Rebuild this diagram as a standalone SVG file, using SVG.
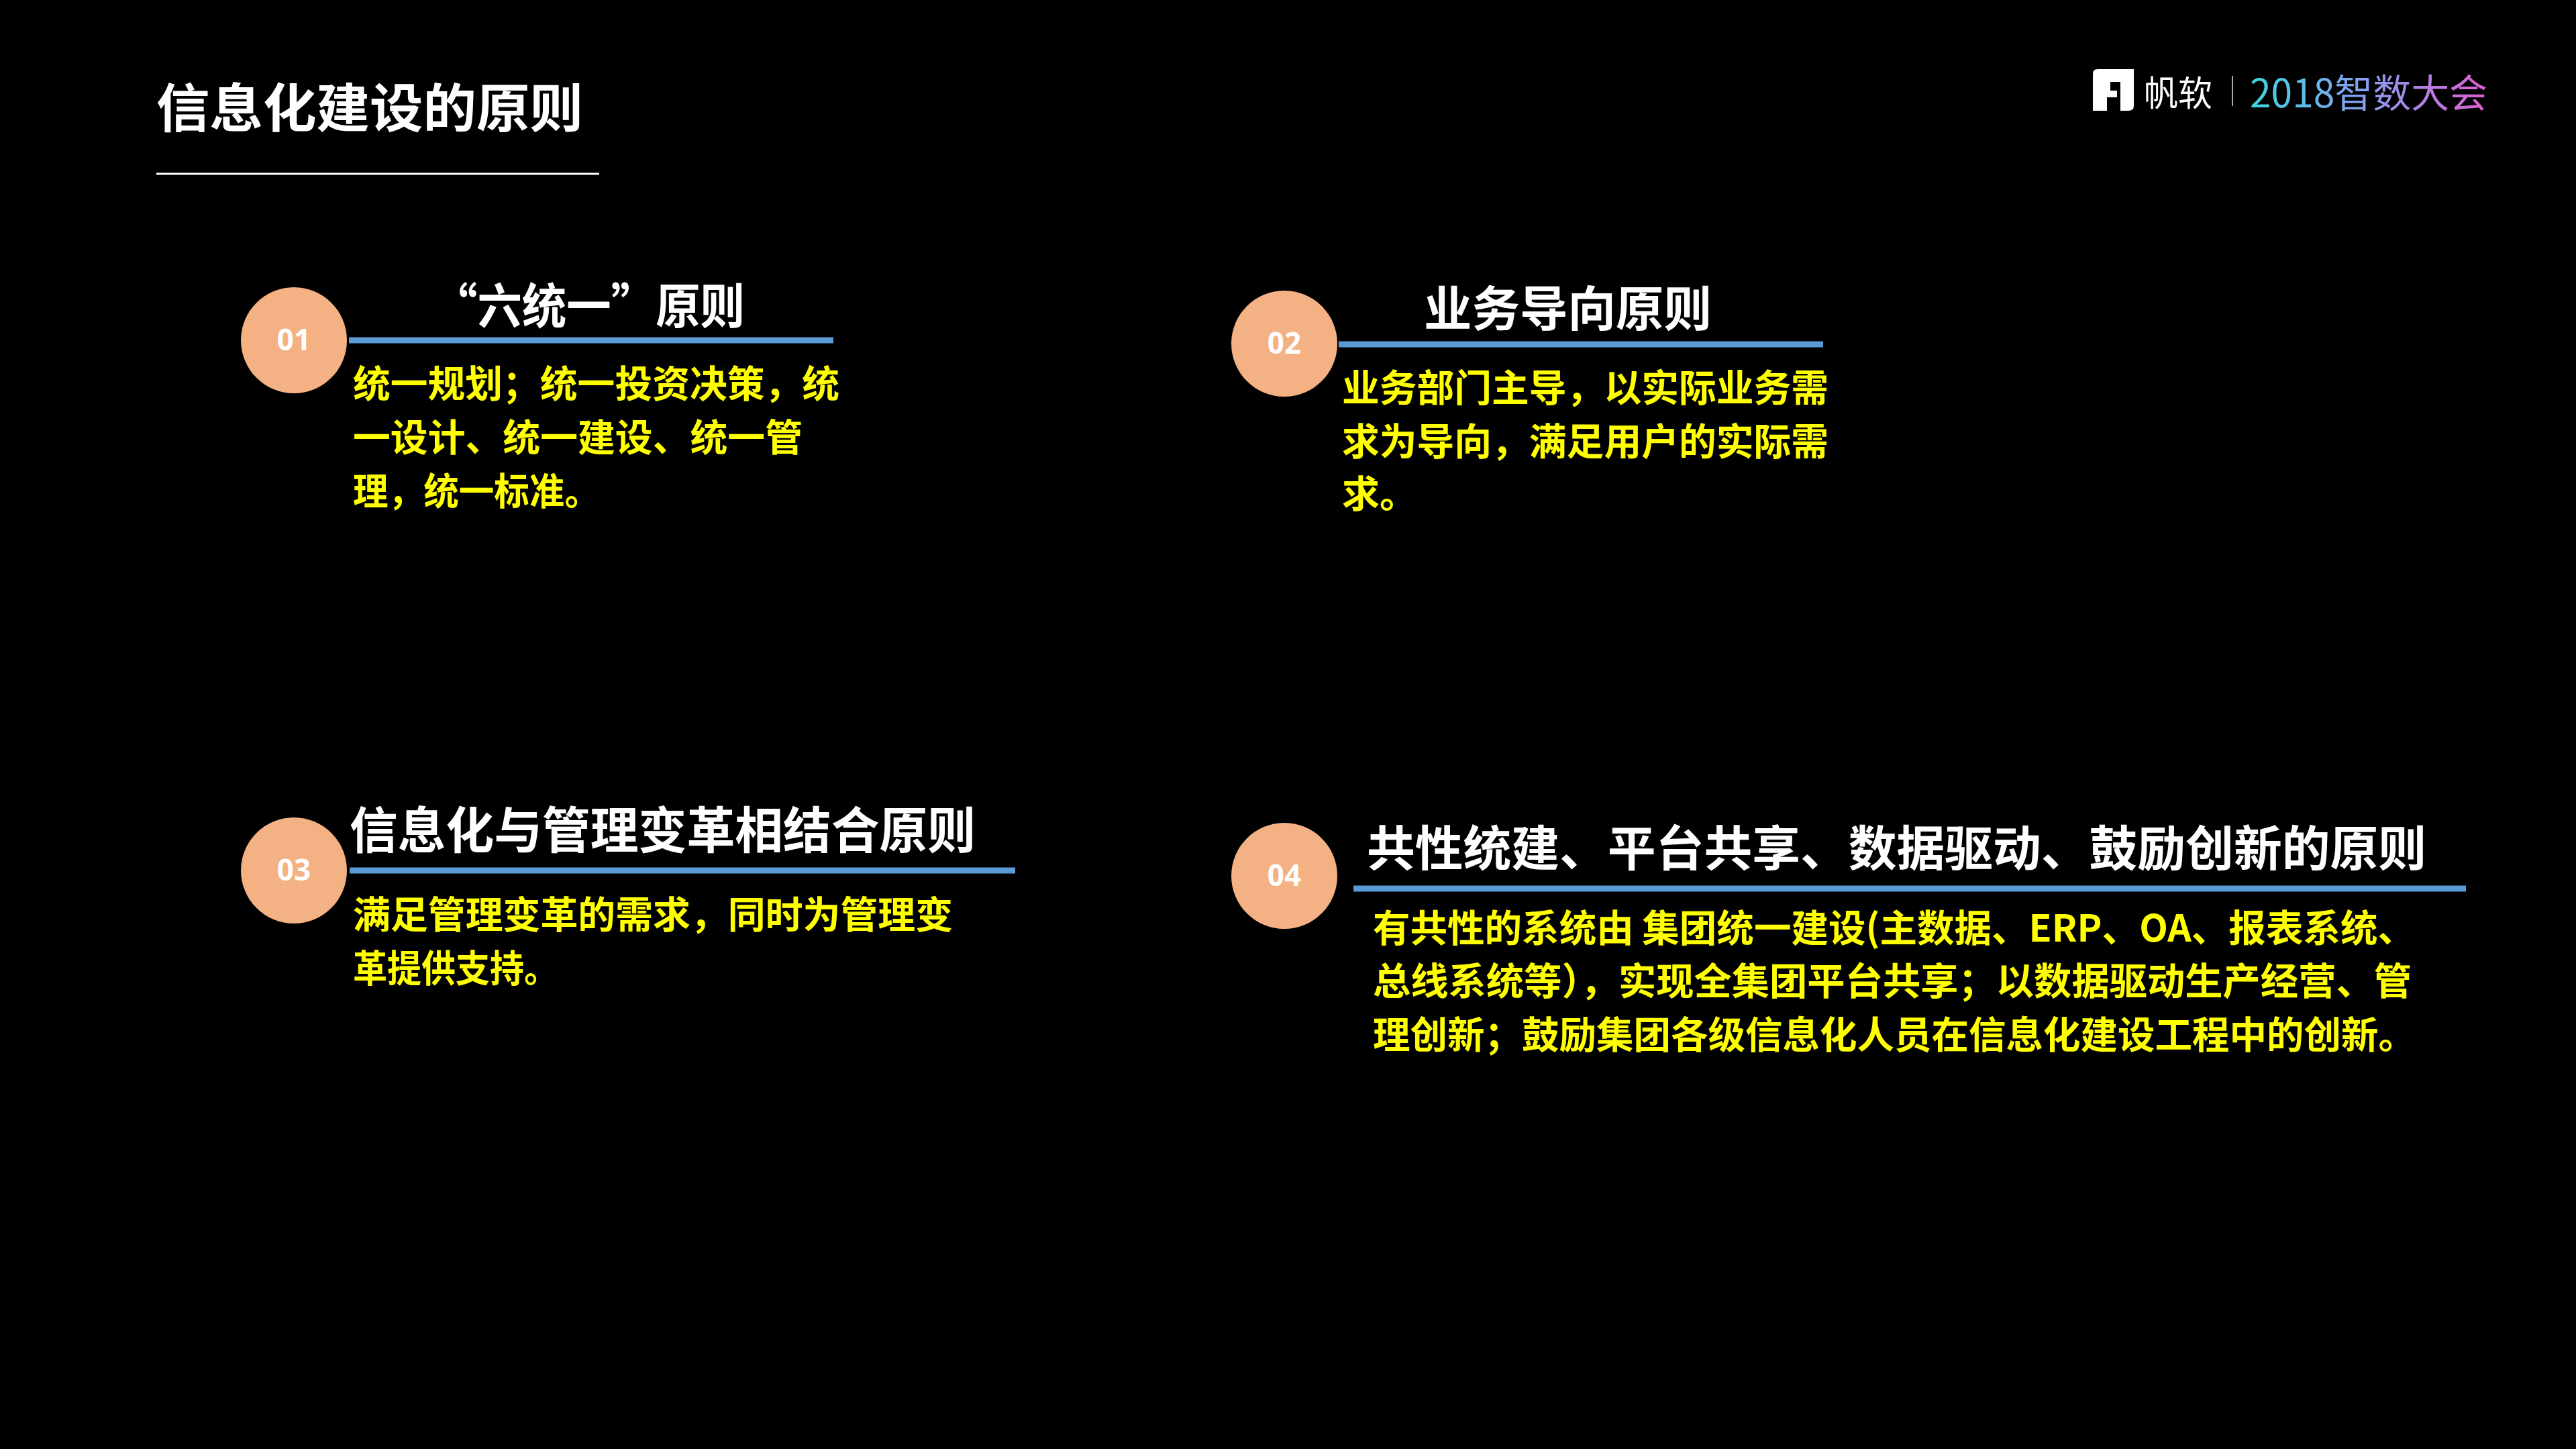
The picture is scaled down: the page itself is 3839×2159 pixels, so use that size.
<svg xmlns="http://www.w3.org/2000/svg" width="3839" height="2159" viewBox="0 0 3839 2159">
<style>
.t{font-family:"Noto Sans CJK SC","Noto Sans",sans-serif;font-weight:700;fill:#fff}
.b{font-family:"Noto Sans CJK SC","Noto Sans",sans-serif;font-weight:700;fill:#ffff00;font-size:56px}
.n{font-family:"Noto Sans","Noto Sans CJK SC",sans-serif;font-weight:700;fill:#fff;font-size:44px;text-anchor:middle}
.c{fill:#f4b183}
.l{stroke:#5b9bd5;stroke-width:9}
</style>
<defs><linearGradient id="g" x1="0" x2="1" y1="0" y2="0"><stop offset="0" stop-color="#3ed6e0"/><stop offset="0.5" stop-color="#8a9cf0"/><stop offset="1" stop-color="#e060d0"/></linearGradient></defs>
<rect width="3839" height="2159" fill="#000"/>
<g id="header">
<text class="t" x="233" y="190" font-size="78" textLength="636" lengthAdjust="spacingAndGlyphs">信息化建设的原则</text>
<line x1="233" y1="259" x2="893" y2="259" stroke="#fff" stroke-width="3"/>
</g>
<g id="logo">
<path d="M3119 110 Q3119 103 3126 103 L3180 103 L3180 158 Q3180 165 3172 165 L3160 165 L3160 122 L3145 122 L3145 135 L3155 135 L3155 145 L3140 145 L3140 165 L3119 165 Z" fill="#fff"/>
<text x="3195" y="158" font-family="Noto Sans CJK SC,sans-serif" font-size="52" fill="#fff" textLength="102" lengthAdjust="spacingAndGlyphs">帆软</text>
<line x1="3327" y1="113" x2="3327" y2="158" stroke="#aaa" stroke-width="2"/>
<text x="3353" y="160" font-family="Noto Sans CJK SC,sans-serif" font-size="58" fill="url(#g)" textLength="354" lengthAdjust="spacingAndGlyphs">2018智数大会</text>
</g>
<g id="connectors">
<line class="l" x1="520" y1="507" x2="1242" y2="507"/>
<line class="l" x1="1995" y1="513" x2="2717" y2="513"/>
<line class="l" x1="521" y1="1297" x2="1513" y2="1297"/>
<line class="l" x1="2017" y1="1324" x2="3675" y2="1324"/>
</g>
<g id="p1">
<circle class="c" cx="438" cy="507" r="79"/>
<text class="n" x="438" y="522">01</text>
<text class="t" x="645" y="482" font-size="72" textLength="465" lengthAdjust="spacingAndGlyphs">“六统一”原则</text>
<text class="b" x="526" y="592" textLength="725" lengthAdjust="spacingAndGlyphs">统一规划；统一投资决策，统</text>
<text class="b" x="526" y="672" textLength="670" lengthAdjust="spacingAndGlyphs">一设计、统一建设、统一管</text>
<text class="b" x="526" y="752" textLength="368" lengthAdjust="spacingAndGlyphs">理，统一标准。</text>
</g>
<g id="p2">
<circle class="c" cx="1914" cy="512" r="79"/>
<text class="n" x="1914" y="527">02</text>
<text class="t" x="2122" y="486" font-size="72" textLength="429" lengthAdjust="spacingAndGlyphs">业务导向原则</text>
<text class="b" x="2000" y="598" textLength="725" lengthAdjust="spacingAndGlyphs">业务部门主导，以实际业务需</text>
<text class="b" x="2000" y="678" textLength="725" lengthAdjust="spacingAndGlyphs">求为导向，满足用户的实际需</text>
<text class="b" x="2000" y="756">求。</text>
</g>
<g id="p3">
<circle class="c" cx="438" cy="1297" r="79"/>
<text class="n" x="438" y="1312">03</text>
<text class="t" x="521" y="1264" font-size="74" textLength="933" lengthAdjust="spacingAndGlyphs">信息化与管理变革相结合原则</text>
<text class="b" x="526" y="1383" textLength="894" lengthAdjust="spacingAndGlyphs">满足管理变革的需求，同时为管理变</text>
<text class="b" x="526" y="1463" textLength="306" lengthAdjust="spacingAndGlyphs">革提供支持。</text>
</g>
<g id="p4">
<circle class="c" cx="1914" cy="1305" r="79"/>
<text class="n" x="1914" y="1320">04</text>
<text class="t" x="2037" y="1290" font-size="72" textLength="1579" lengthAdjust="spacingAndGlyphs">共性统建、平台共享、数据驱动、鼓励创新的原则</text>
<text class="b" x="2046" y="1403" textLength="1553" lengthAdjust="spacingAndGlyphs">有共性的系统由 集团统一建设(主数据、ERP、OA、报表系统、</text>
<text class="b" x="2046" y="1482" textLength="1548" lengthAdjust="spacingAndGlyphs">总线系统等），实现全集团平台共享；以数据驱动生产经营、管</text>
<text class="b" x="2046" y="1562" textLength="1554" lengthAdjust="spacingAndGlyphs">理创新；鼓励集团各级信息化人员在信息化建设工程中的创新。</text>
</g>
</svg>
